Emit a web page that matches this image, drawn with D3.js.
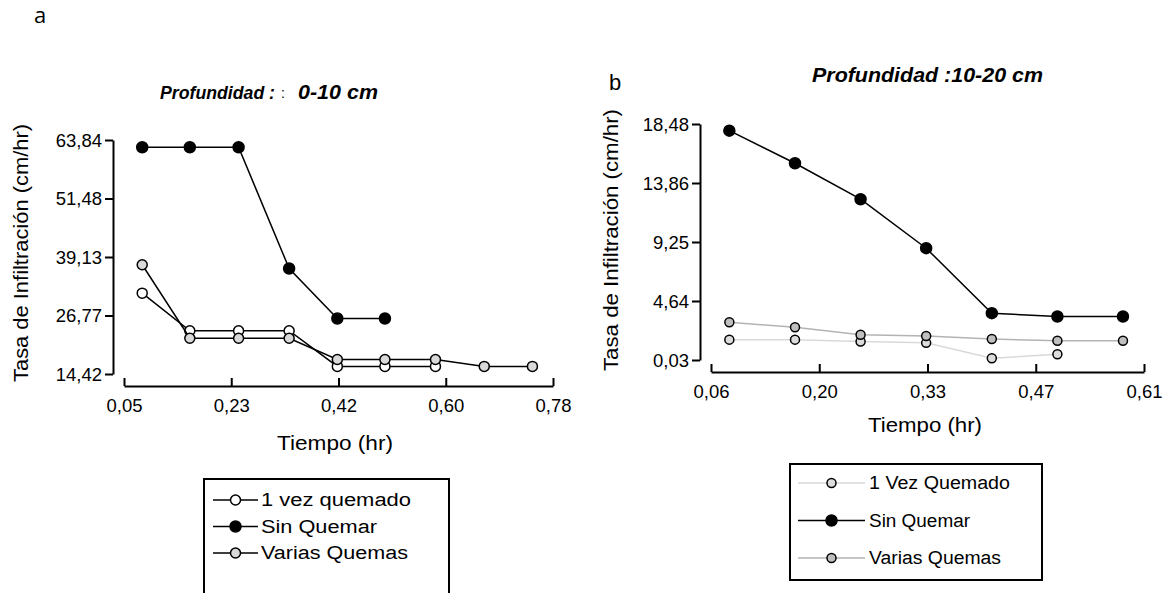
<!DOCTYPE html>
<html><head><meta charset="utf-8">
<script src="https://cdn.jsdelivr.net/npm/d3@7"></script>
<style>body{margin:0;background:#fff}svg{display:block}text{font-family:"Liberation Sans",Arial,sans-serif;fill:#000}</style>
</head><body>
<svg id="c" width="1176" height="593"></svg>
<script>
// ---- Panel a: Profundidad 0-10 cm ----
const xTicksA = [0.05, 0.2325, 0.415, 0.5975, 0.78];
const xTickLabelsA = ["0,05", "0,23", "0,42", "0,60", "0,78"];
const yTicksA = [14.42, 26.775, 39.13, 51.485, 63.84];
const yTickLabelsA = ["14,42", "26,77", "39,13", "51,48", "63,84"];
const timeA = [0.081, 0.162, 0.245, 0.331, 0.413, 0.494, 0.580, 0.663, 0.745];
const sinQuemarA = [62.3, 62.3, 62.3, 36.7, 26.15, 26.15];
const unaVezA = [31.5, 23.55, 23.55, 23.55, 16.03, 16.03, 16.03];
const variasA = [37.5, 21.98, 21.98, 21.98, 17.48, 17.48, 17.48, 16.03, 16.03];

// ---- Panel b: Profundidad 10-20 cm ----
const xTicksB = [0.06, 0.1975, 0.335, 0.4725, 0.61];
const xTickLabelsB = ["0,06", "0,20", "0,33", "0,47", "0,61"];
const yTicksB = [0.03, 4.6425, 9.255, 13.8675, 18.48];
const yTickLabelsB = ["0,03", "4,64", "9,25", "13,86", "18,48"];
const timeB = [0.0833, 0.1667, 0.25, 0.3333, 0.4167, 0.5, 0.5833];
const sinQuemarB = [17.96, 15.41, 12.6, 8.77, 3.69, 3.43, 3.43];
const unaVezB = [1.62, 1.62, 1.47, 1.37, 0.16, 0.48];
const variasB = [2.98, 2.59, 2.01, 1.91, 1.67, 1.54, 1.54];

const svg = d3.select("#c");

function fit(sel, w) {
  if (w) sel.attr("textLength", w).attr("lengthAdjust", "spacingAndGlyphs");
  return sel;
}

function panel(o) {
  const x = d3.scaleLinear().domain([o.xTicks[0], o.xTicks[o.xTicks.length-1]]).range(o.xr);
  const y = d3.scaleLinear().domain([o.yTicks[0], o.yTicks[o.yTicks.length-1]]).range(o.yr);
  const g = svg.append("g");
  const ya = g.append("g").attr("transform", `translate(${o.yAxisX},0)`)
    .call(d3.axisLeft(y).tickValues(o.yTicks).tickFormat((d,i)=>o.yLabels[i]).tickSize(8).tickSizeOuter(0));
  const xa = g.append("g").attr("transform", `translate(0,${o.xAxisY})`)
    .call(d3.axisBottom(x).tickValues(o.xTicks).tickFormat((d,i)=>o.xLabels[i]).tickSize(-8).tickSizeOuter(0));
  [ya, xa].forEach(a => {
    a.select(".domain").attr("stroke", "#000").attr("stroke-width", 2);
    a.selectAll(".tick line").attr("stroke", "#000").attr("stroke-width", 2);
    a.selectAll(".tick text").style("font-size", "18.5px").attr("fill", "#000");
  });
  ya.selectAll(".tick text").attr("x", -11).attr("dy", "0.34em");
  xa.selectAll(".tick text").attr("y", 13);
  o.series.forEach(s => {
    const pts = s.values.map((v,i)=>[o.time[i], v]);
    g.append("path").datum(pts)
      .attr("fill", "none").attr("stroke", s.line).attr("stroke-width", s.lw)
      .attr("d", d3.line().x(d=>x(d[0])).y(d=>y(d[1])));
    g.selectAll(null).data(pts).enter().append("circle")
      .attr("cx", d=>x(d[0])).attr("cy", d=>y(d[1])).attr("r", s.r)
      .attr("fill", s.fill).attr("stroke", "#000").attr("stroke-width", 1.5);
  });
  fit(g.append("text").attr("transform", `translate(${o.yTitleX},${o.yTitleY}) rotate(-90)`)
    .attr("text-anchor", "middle").attr("dominant-baseline", "central").style("font-size", "20px")
    .text("Tasa de Infiltración (cm/hr)"), o.yTitleW);
  fit(g.append("text").attr("x", o.xTitleX).attr("y", o.xTitleY)
    .attr("text-anchor", "middle").attr("dominant-baseline", "central").style("font-size", "20px")
    .text("Tiempo (hr)"), o.xTitleW);
  const L = o.legend;
  g.append("rect").attr("x", L.x).attr("y", L.y).attr("width", L.w).attr("height", L.h)
    .attr("fill", "none").attr("stroke", "#000").attr("stroke-width", 2);
  o.legendOrder.forEach((s, i) => {
    const yy = L.y + L.first + i * L.step;
    g.append("line").attr("x1", L.x+L.l1).attr("x2", L.x+L.l2).attr("y1", yy).attr("y2", yy)
      .attr("stroke", s.line).attr("stroke-width", s.lw);
    g.append("circle").attr("cx", L.x+(L.l1+L.l2)/2).attr("cy", yy).attr("r", s.r).attr("fill", s.fill)
      .attr("stroke", "#000").attr("stroke-width", 1.5);
    fit(g.append("text").attr("x", L.x+L.tx).attr("y", yy).attr("dominant-baseline", "central")
      .style("font-size", "18px").text(s.name), L.widths[i]);
  });
}

const sA = [
  {name: "1 vez quemado", values: unaVezA, fill: "#fff", line: "#000", lw: 1.5, r: 5},
  {name: "Sin Quemar", values: sinQuemarA, fill: "#000", line: "#000", lw: 1.5, r: 5.5},
  {name: "Varias Quemas", values: variasA, fill: "#d9d9d9", line: "#000", lw: 1.5, r: 5}
];
panel({
  xTicks: xTicksA, xLabels: xTickLabelsA, yTicks: yTicksA, yLabels: yTickLabelsA,
  time: timeA, xr: [124, 553], yr: [374, 140], yAxisX: 113, xAxisY: 386,
  yTitleX: 21, yTitleY: 253, yTitleW: 258, xTitleX: 335, xTitleY: 443, xTitleW: 116,
  series: [sA[0], sA[2], sA[1]], legendOrder: sA,
  legend: {x: 204, y: 479, w: 245, h: 130, first: 21, step: 26.5, l1: 9, l2: 54, tx: 57,
           widths: [150, 116, 147]}
});

const sB = [
  {name: "1 Vez Quemado", values: unaVezB, fill: "#dcdcdc", line: "#d9d9d9", lw: 1.5, r: 4.5},
  {name: "Sin Quemar", values: sinQuemarB, fill: "#000", line: "#000", lw: 1.5, r: 5.5},
  {name: "Varias Quemas", values: variasB, fill: "#bfbfbf", line: "#b3b3b3", lw: 1.5, r: 4.5}
];
panel({
  xTicks: xTicksB, xLabels: xTickLabelsB, yTicks: yTicksB, yLabels: yTickLabelsB,
  time: timeB, xr: [711, 1144], yr: [360, 124], yAxisX: 700, xAxisY: 372,
  yTitleX: 611, yTitleY: 240, yTitleW: 262, xTitleX: 925, xTitleY: 425, xTitleW: 114,
  series: [sB[0], sB[2], sB[1]], legendOrder: sB,
  legend: {x: 790, y: 464, w: 252, h: 116, first: 19, step: 37.5, l1: 8, l2: 75, tx: 79,
           widths: [141, 101, 132]}
});

// panel letters and titles
svg.append("text").attr("x", 34).attr("y", 23).style("font-size", "22px")
  .style("font-family", "'Open Sans', sans-serif").text("a");
svg.append("text").attr("x", 609).attr("y", 90).style("font-size", "22px").text("b");
fit(svg.append("text").attr("x", 160).attr("y", 99).style("font-size", "18px").style("font-weight", "bold")
  .style("font-style", "italic").attr("fill", "#2a2a40").text("Profundidad :"), 115);
svg.append("text").attr("x", 281).attr("y", 98).style("font-size", "14px").attr("fill", "#e0a060").text(":");
fit(svg.append("text").attr("x", 298).attr("y", 99).style("font-size", "20px").style("font-weight", "bold")
  .style("font-style", "italic").text("0-10 cm"), 80);
fit(svg.append("text").attr("x", 812).attr("y", 82).style("font-size", "20px").style("font-weight", "bold")
  .style("font-style", "italic").text("Profundidad :10-20 cm"), 231);
</script>
</body></html>
